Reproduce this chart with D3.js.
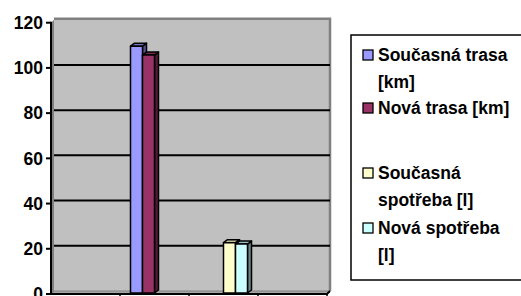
<!DOCTYPE html>
<meta charset="utf-8">
<html lang="cs">
<head>
    <meta charset="UTF-8">
    <title>D3</title>
    <script src="https://d3js.org/d3.v7.min.js"></script>
    <style>
        body { margin: 0; background: #fff; }
        text { font-family: "Liberation Sans", Arial, sans-serif; font-weight: bold; fill: #000; }
    </style>
</head>
<body>
    <div id="viz"></div>
    <script>
        // data
        const categories = ["k1", "k2", "k3", "k4"];
        const seriesNames = ["Současná trasa [km]", "Nová trasa [km]", "Současná spotřeba [l]", "Nová spotřeba [l]"];
        const currentRoute = [null, 109.6, null, null];
        const newRoute = [null, 105.7, null, null];
        const currentFuel = [null, null, 22.7, null];
        const newFuel = [null, null, 22.1, null];
        const yTicks = [0, 20, 40, 60, 80, 100, 120];
        const legendLines = [["Současná trasa", "[km]"], ["Nová trasa [km]"], ["Současná", "spotřeba [l]"], ["Nová spotřeba", "[l]"]];
        const colors = ["#9999FF", "#993366", "#FFFFCC", "#CCFFFF"];

        const seriesValues = [currentRoute, newRoute, currentFuel, newFuel];

        const W = 521, H = 296;
        const pLeft = 51, pRight = 327, pTop = 22.7, pBottom = 294;
        const D = 3; // 3d depth

        const svg = d3.select("#viz")
            .append("svg")
                .attr("width", W)
                .attr("height", H);

        const x0 = d3.scaleBand().domain(categories).range([pLeft, pRight]);
        const x1 = d3.scaleBand().domain(seriesNames).range([0, x0.bandwidth()]).paddingOuter(0.875);
        const y = d3.scaleLinear().domain([0, 120]).range([pBottom, pTop]);

        // walls
        svg.append("path")
            .attr("d", `M${pLeft},${y(120)}L${pLeft + D},${y(120) - D}L${pLeft + D},${y(0) - D}L${pLeft},${y(0)}Z`)
            .attr("fill", "#808080");
        svg.append("rect")
            .attr("x", pLeft + D).attr("y", y(120) - D - 1)
            .attr("width", pRight - pLeft).attr("height", y(0) - y(120) + 1)
            .attr("fill", "#C0C0C0");
        svg.append("path")
            .attr("d", `M${pLeft + D},${y(120) - D - 1}H${pRight + D}V${y(0) - D}`)
            .attr("fill", "none").attr("stroke", "#808080").attr("stroke-width", 2.5);
        // floor
        svg.append("path")
            .attr("d", `M${pLeft},${y(0)}L${pLeft + D},${y(0) - D}H${pRight + D}L${pRight},${y(0)}Z`)
            .attr("fill", "#A6A6A6").attr("stroke", "#808080").attr("stroke-width", 1);

        // gridlines on the back wall
        svg.append("g").selectAll("line")
            .data(yTicks.filter(d => d > 0 && d < 120))
            .join("line")
                .attr("x1", pLeft + D).attr("x2", pRight + D)
                .attr("y1", d => y(d) - D).attr("y2", d => y(d) - D)
                .attr("stroke", "#000").attr("stroke-width", 2);

        // bars
        const bars = [];
        seriesValues.forEach((vals, si) => {
            vals.forEach((v, ci) => {
                if (v != null) bars.push({s: seriesNames[si], c: categories[ci], v: v, color: colors[si]});
            });
        });
        const bd = 4, bdy = 3;
        const bg = svg.append("g").selectAll("g").data(bars).join("g")
            .attr("stroke", "#000").attr("stroke-width", 1.5).attr("stroke-linejoin", "round");
        bg.each(function(d) {
            const g = d3.select(this);
            const xa = x0(d.c) + x1(d.s), xb = xa + x1.bandwidth();
            const yt = y(d.v), yb = y(0) - 1;
            // side
            g.append("path")
                .attr("d", `M${xb},${yt}L${xb + bd},${yt - bdy}V${yb - bdy}L${xb},${yb}Z`)
                .attr("fill", d3.color(d.color).darker(1.8));
            // top
            g.append("path")
                .attr("d", `M${xa},${yt}L${xa + bd},${yt - bdy}H${xb + bd}L${xb},${yt}Z`)
                .attr("fill", d3.color(d.color).darker(0.8));
            // front
            g.append("rect")
                .attr("x", xa).attr("y", yt)
                .attr("width", xb - xa).attr("height", yb - yt)
                .attr("fill", d.color);
        });

        // y axis
        const yAxis = svg.append("g");
        yAxis.append("line")
            .attr("x1", pLeft).attr("x2", pLeft).attr("y1", y(120) - 1).attr("y2", y(0))
            .attr("stroke", "#000").attr("stroke-width", 2);
        yAxis.selectAll("line.tick").data(yTicks).join("line")
            .attr("class", "tick")
            .attr("x1", pLeft - 5).attr("x2", pLeft)
            .attr("y1", d => y(d)).attr("y2", d => y(d))
            .attr("stroke", "#000").attr("stroke-width", 2);
        yAxis.selectAll("text").data(yTicks).join("text")
            .attr("x", pLeft - 8).attr("y", d => y(d))
            .attr("dy", "0.36em")
            .attr("text-anchor", "end")
            .attr("font-size", 17.5)
            .text(d => d);

        // x axis
        const xAxis = svg.append("g");
        xAxis.append("path")
            .attr("d", `M${pLeft},${y(0)}H${pRight}L${pRight + D},${y(0) - D}`)
            .attr("fill", "none").attr("stroke", "#000").attr("stroke-width", 2);
        xAxis.selectAll("line").data(categories.slice(1).concat([null])).join("line")
            .attr("x1", d => d == null ? pRight : x0(d)).attr("x2", d => d == null ? pRight : x0(d))
            .attr("y1", y(0)).attr("y2", y(0) + 5)
            .attr("stroke", "#000").attr("stroke-width", 1.5);

        // legend
        const lx = 351, ly = 35;
        svg.append("rect")
            .attr("x", lx).attr("y", ly)
            .attr("width", 200).attr("height", 245)
            .attr("fill", "#fff").attr("stroke", "#000").attr("stroke-width", 1.5);
        const entryY = [55, 108, 173, 228];
        const lineH = 27;
        const lg = svg.append("g").selectAll("g").data(seriesNames).join("g")
            .attr("transform", (d, i) => `translate(${lx + 12},${entryY[i]})`);
        lg.append("rect")
            .attr("x", 0).attr("y", -5).attr("width", 10).attr("height", 10)
            .attr("fill", (d, i) => colors[i]).attr("stroke", "#000").attr("stroke-width", 1.3);
        lg.each(function(d, i) {
            d3.select(this).selectAll("text").data(legendLines[i]).join("text")
                .attr("x", 15).attr("y", (t, j) => j * lineH)
                .attr("dy", "0.36em")
                .attr("font-size", 17.5)
                .text(t => t);
        });
    </script>
</body>
</html>
